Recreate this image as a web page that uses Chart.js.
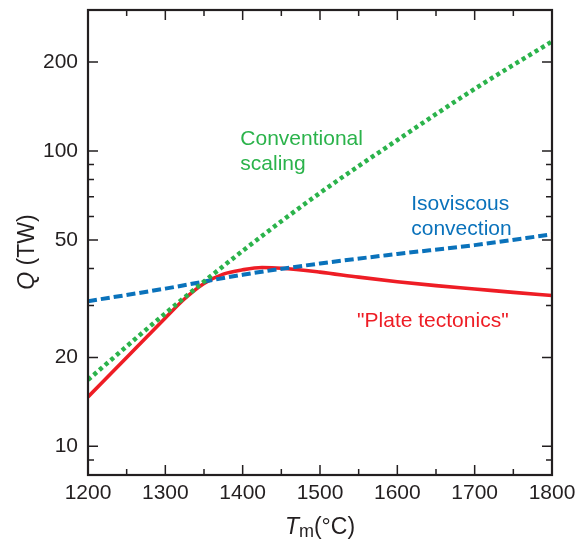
<!DOCTYPE html>
<html>
<head>
<meta charset="utf-8">
<script src="https://cdn.jsdelivr.net/npm/chart.js@4.4.1/dist/chart.umd.min.js"></script>
<style>
  html, body { margin: 0; padding: 0; background: #fff; }
  #wrap { width: 578px; height: 540px; position: relative; }
</style>
</head>
<body>
<div id="wrap"><canvas id="chart"></canvas></div>
<script>
// Mantle temperature (deg C) vs heat flow Q (TW)
const mantleTemps = [1200, 1300, 1400, 1500, 1600, 1700, 1800];
const conventionalQ = [16.8, 28.2, 45.9, 72.1, 108.9, 162.2, 234.8];
const isoviscousQ = [31.0, 34.2, 38.1, 41.6, 44.8, 48.0, 52.2];

const plateTemps = [1200, 1250, 1300, 1325, 1350, 1375, 1400, 1425, 1450, 1500, 1550, 1600, 1650, 1700, 1750, 1800];
const plateQ = [14.7, 20.0, 27.2, 31.6, 35.6, 38.3, 39.6, 40.3, 40.1, 38.9, 37.4, 36.1, 35.0, 34.1, 33.2, 32.4];

// axis ticks
const xLabelTicks = [1200, 1300, 1400, 1500, 1600, 1700, 1800];
const xMinorTicks = [1250, 1350, 1450, 1550, 1650, 1750];
const yLabelTicks = [10, 20, 50, 100, 200];
const yMinorTicks = [9, 30, 40, 60, 70, 80, 90];

const FONT = '"Liberation Sans", Arial, Helvetica, sans-serif';
const INK = '#231f20';
const GREEN = '#2bb34b';
const BLUE = '#0a72bb';
const RED = '#ee1d25';

function toPoints(xs, ys) {
    return xs.map((x, i) => ({ x: x, y: ys[i] }));
}

// keep the plot box where the figure has it
function fixBox(s, size) {
    if (s.isHorizontal()) s.height = size; else s.width = size;
    s.paddingLeft = s.paddingRight = s.paddingTop = s.paddingBottom = 0;
}

// frame, inward ticks, axis titles and curve labels
const decorPlugin = {
    id: 'decor',
    afterDraw(chart) {
        const ctx = chart.ctx;
        const a = chart.chartArea;
        const xs = chart.scales.x;
        const ys = chart.scales.y;
        ctx.save();

        // ticks on all four sides, pointing inward
        ctx.strokeStyle = INK;
        ctx.lineWidth = 1.5;
        const major = 10, minor = 6;
        ctx.beginPath();
        xLabelTicks.forEach(v => {
            const px = xs.getPixelForValue(v);
            ctx.moveTo(px, a.bottom); ctx.lineTo(px, a.bottom - major);
            ctx.moveTo(px, a.top); ctx.lineTo(px, a.top + major);
        });
        xMinorTicks.forEach(v => {
            const px = xs.getPixelForValue(v);
            ctx.moveTo(px, a.bottom); ctx.lineTo(px, a.bottom - minor);
            ctx.moveTo(px, a.top); ctx.lineTo(px, a.top + minor);
        });
        yLabelTicks.forEach(v => {
            const py = ys.getPixelForValue(v);
            ctx.moveTo(a.left, py); ctx.lineTo(a.left + major, py);
            ctx.moveTo(a.right, py); ctx.lineTo(a.right - major, py);
        });
        yMinorTicks.forEach(v => {
            const py = ys.getPixelForValue(v);
            ctx.moveTo(a.left, py); ctx.lineTo(a.left + minor, py);
            ctx.moveTo(a.right, py); ctx.lineTo(a.right - minor, py);
        });
        ctx.stroke();

        // frame
        ctx.lineWidth = 2.2;
        ctx.strokeRect(a.left, a.top, a.right - a.left, a.bottom - a.top);

        // y title: italic Q + (TW)
        ctx.fillStyle = INK;
        ctx.textBaseline = 'alphabetic';
        ctx.textAlign = 'left';
        ctx.save();
        ctx.translate(34, 252);
        ctx.rotate(-Math.PI / 2);
        ctx.font = 'italic 23px ' + FONT;
        const qW = ctx.measureText('Q').width;
        ctx.font = '23px ' + FONT;
        const restW = ctx.measureText(' (TW)').width;
        let sx = -(qW + restW) / 2;
        ctx.font = 'italic 23px ' + FONT;
        ctx.fillText('Q', sx, 0);
        ctx.font = '23px ' + FONT;
        ctx.fillText(' (TW)', sx + qW, 0);
        ctx.restore();

        // x title: T with subscript m, then (°C)
        ctx.font = 'italic 23px ' + FONT;
        const tW = ctx.measureText('T').width;
        ctx.font = '18px ' + FONT;
        const mW = ctx.measureText('m').width;
        ctx.font = '23px ' + FONT;
        const cW = ctx.measureText('(°C)').width;
        let tx = (a.left + a.right) / 2 - (tW + mW + cW) / 2;
        const base = 534;
        ctx.font = 'italic 23px ' + FONT;
        ctx.fillText('T', tx, base);
        ctx.font = '18px ' + FONT;
        ctx.fillText('m', tx + tW, base + 3);
        ctx.font = '23px ' + FONT;
        ctx.fillText('(°C)', tx + tW + mW, base);

        // curve labels, anchored in data space
        ctx.font = '21px ' + FONT;
        ctx.fillStyle = GREEN;
        ctx.fillText('Conventional', xs.getPixelForValue(1397), ys.getPixelForValue(104.8));
        ctx.fillText('scaling', xs.getPixelForValue(1397), ys.getPixelForValue(86.2));
        ctx.fillStyle = BLUE;
        ctx.fillText('Isoviscous', xs.getPixelForValue(1618), ys.getPixelForValue(63.1));
        ctx.fillText('convection', xs.getPixelForValue(1618), ys.getPixelForValue(51.9));
        ctx.fillStyle = RED;
        ctx.fillText('"Plate tectonics"', xs.getPixelForValue(1548), ys.getPixelForValue(25.3));

        ctx.restore();
    }
};

new Chart(document.getElementById('chart'), {
    type: 'line',
    data: {
        datasets: [
            {
                label: 'Conventional scaling',
                data: toPoints(mantleTemps, conventionalQ),
                borderColor: GREEN,
                borderWidth: 4.5,
                borderDash: [4, 3.5],
                pointRadius: 0,
                cubicInterpolationMode: 'monotone'
            },
            {
                label: 'Isoviscous convection',
                data: toPoints(mantleTemps, isoviscousQ),
                borderColor: BLUE,
                borderWidth: 4,
                borderDash: [9, 4],
                pointRadius: 0,
                cubicInterpolationMode: 'monotone'
            },
            {
                label: '"Plate tectonics"',
                data: toPoints(plateTemps, plateQ),
                borderColor: RED,
                borderWidth: 3.6,
                pointRadius: 0,
                cubicInterpolationMode: 'monotone'
            }
        ]
    },
    options: {
        responsive: true,
        maintainAspectRatio: false,
        animation: false,
        layout: { padding: { top: 10, right: 26, left: 0, bottom: 0 } },
        plugins: {
            legend: { display: false },
            tooltip: { enabled: false }
        },
        scales: {
            x: {
                type: 'linear',
                min: 1200,
                max: 1800,
                grid: { display: false, drawTicks: false, tickLength: 0 },
                border: { display: false },
                afterBuildTicks: s => { s.ticks = xLabelTicks.map(v => ({ value: v })); },
                afterFit: s => fixBox(s, 65),
                ticks: {
                    autoSkip: false,
                    maxRotation: 0,
                    padding: 8,
                    color: INK,
                    font: { family: FONT, size: 21, lineHeight: 1 },
                    callback: v => String(v)
                }
            },
            y: {
                type: 'logarithmic',
                min: 8,
                max: 300,
                grid: { display: false, drawTicks: false, tickLength: 0 },
                border: { display: false },
                afterBuildTicks: s => { s.ticks = yLabelTicks.map(v => ({ value: v })); },
                afterFit: s => fixBox(s, 88),
                ticks: {
                    autoSkip: false,
                    padding: 10,
                    color: INK,
                    font: { family: FONT, size: 21, lineHeight: 1 },
                    callback: v => String(v)
                }
            }
        }
    },
    plugins: [decorPlugin]
});
</script>
</body>
</html>
